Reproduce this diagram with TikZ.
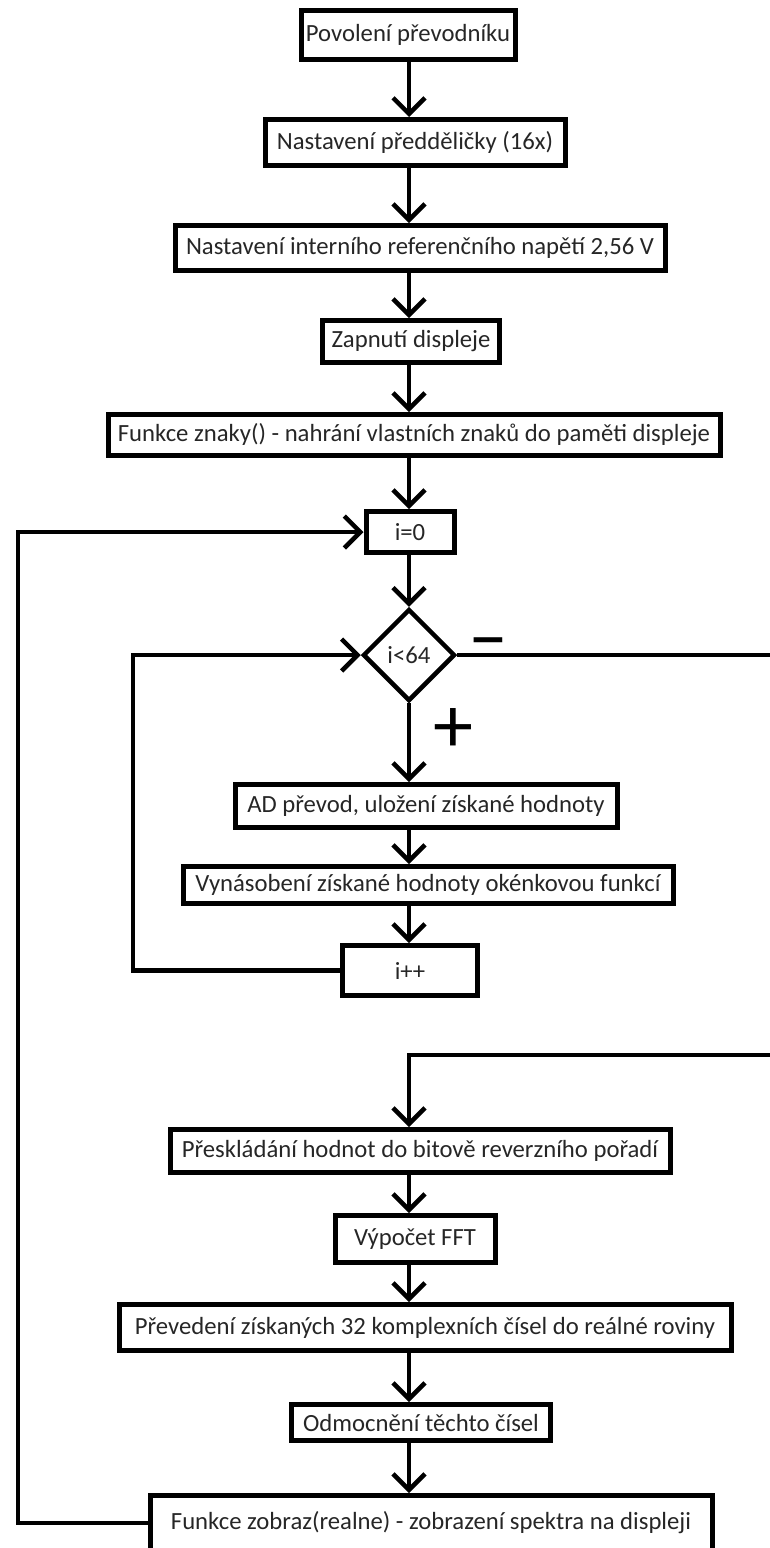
\documentclass[tikz,border=0pt]{standalone}
\usepackage{fontspec}
\setmainfont{Carlito}
\usetikzlibrary{arrows.meta,shapes.geometric}

\begin{document}
\begin{tikzpicture}[x=1pt,y=-1pt,
    flow/.style={line width=4.5pt,-{Straight Barb[length=16pt,width=32pt]}},
    box/.style={draw,line width=5pt,rectangle,inner sep=2pt,font=\fontsize{24.7}{30}\selectfont,text=black!85},
    test/.style={draw,line width=4.5pt,diamond,inner sep=0pt,minimum width=92pt,minimum height=92pt,font=\fontsize{24.7}{30}\selectfont,text=black!85},
    sign/.style={inner sep=0pt,font=\fontsize{80}{80}\selectfont}]

    \useasboundingbox (0,0) rectangle (770,1548);
    \clip (0,0) rectangle (770,1548);

    \coordinate (ax) at (409,0);
    \coordinate (inL) at (133,0);
    \coordinate (outL) at (18,0);
    \coordinate (back) at (800,1055);

    \node[box,minimum width=214pt,minimum height=49pt] (adc) at (408,35) {Povolení převodníku};
    \node[box,minimum width=300pt,minimum height=46pt] (pre) at (415,142.5) {Nastavení předděličky (16x)};
    \node[box,minimum width=490pt,minimum height=45pt] (ref) at (420,248) {Nastavení interního referenčního napětí 2,56 V};
    \node[box,minimum width=177pt,minimum height=42pt] (lcd) at (411,341.5) {Zapnutí displeje};
    \node[box,minimum width=612pt,minimum height=41pt] (chars) at (414,435) {Funkce znaky() - nahrání vlastních znaků do paměti displeje};
    \node[box,minimum width=88pt,minimum height=41pt] (init) at (410,532) {i=0};
    \node[test] (cond) at (409,655) {i<64};
    \node[box,minimum width=382pt,minimum height=43pt] (conv) at (426,806) {AD převod, uložení získané hodnoty};
    \node[box,minimum width=490pt,minimum height=37pt] (win) at (428,885) {Vynásobení získané hodnoty okénkovou funkcí};
    \node[box,minimum width=135pt,minimum height=50pt] (inc) at (410,970.5) {i++};
    \node[box,minimum width=500pt,minimum height=43pt] (sort) at (420,1151) {Přeskládání hodnot do bitově reverzního pořadí};
    \node[box,minimum width=160pt,minimum height=47pt] (fft) at (415,1239) {Výpočet FFT};
    \node[box,minimum width=612pt,minimum height=46pt] (mag) at (425,1327.5) {Převedení získaných 32 komplexních čísel do reálné roviny};
    \node[box,minimum width=259pt,minimum height=36pt] (root) at (421,1422.5) {Odmocnění těchto čísel};
    \node[box,minimum width=562pt,minimum height=55pt] (show) at (431,1523) {Funkce zobraz(realne) - zobrazení spektra na displeji};

    \node[sign] (no) at (488,650) {–};
    \node[sign] (yes) at (453,730) {+};

    \draw[flow] (adc.south -| ax) -- (pre.north -| ax);
    \draw[flow] (pre.south -| ax) -- (ref.north -| ax);
    \draw[flow] (ref.south -| ax) -- (lcd.north -| ax);
    \draw[flow] (lcd.south -| ax) -- (chars.north -| ax);
    \draw[flow] (chars.south -| ax) -- (init.north -| ax);
    \draw[flow] (init.south -| ax) -- (cond.north);
    \draw[flow] (cond.south) -- (conv.north -| ax);
    \draw[flow] (conv.south -| ax) -- (win.north -| ax);
    \draw[flow] (win.south -| ax) -- (inc.north -| ax);
    \draw[flow] (inc.west) -| (cond.west -| inL) -- (cond.west);
    \draw[flow] (cond.east) -| (back) -| (sort.north -| ax);
    \draw[flow] (sort.south -| ax) -- (fft.north -| ax);
    \draw[flow] (fft.south -| ax) -- (mag.north -| ax);
    \draw[flow] (mag.south -| ax) -- (root.north -| ax);
    \draw[flow] (root.south -| ax) -- (show.north -| ax);
    \draw[flow] (show.west) -| (init.west -| outL) -- (init.west);
\end{tikzpicture}
\end{document}
